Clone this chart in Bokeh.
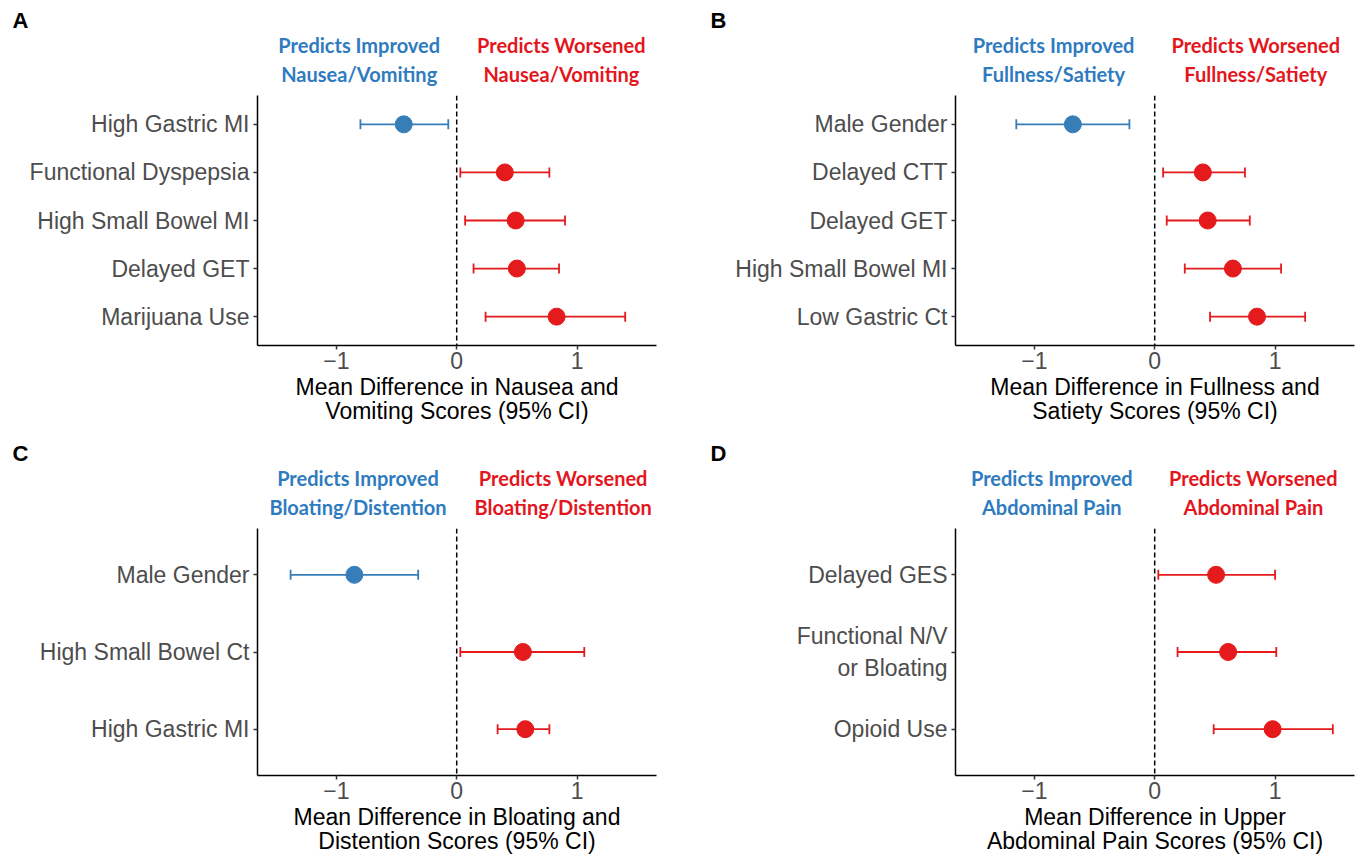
from bokeh.plotting import figure
from bokeh.models import Range1d, FixedTicker, ColumnDataSource, Whisker, TeeHead, Span
from bokeh.layouts import column, row
from bokeh.core.properties import value
from bokeh.embed import file_html
from bokeh.resources import INLINE

# ---------------- data ----------------
A_labels = ["High Gastric MI", "Functional Dyspepsia", "High Small Bowel MI", "Delayed GET", "Marijuana Use"]
A_est = [-0.44, 0.40, 0.49, 0.50, 0.83]
A_lo = [-0.80, 0.03, 0.07, 0.14, 0.24]
A_hi = [-0.07, 0.77, 0.90, 0.85, 1.40]

B_labels = ["Male Gender", "Delayed CTT", "Delayed GET", "High Small Bowel MI", "Low Gastric Ct"]
B_est = [-0.68, 0.40, 0.44, 0.65, 0.85]
B_lo = [-1.15, 0.07, 0.10, 0.25, 0.46]
B_hi = [-0.21, 0.75, 0.79, 1.05, 1.25]

C_labels = ["Male Gender", "High Small Bowel Ct", "High Gastric MI"]
C_est = [-0.85, 0.55, 0.57]
C_lo = [-1.38, 0.03, 0.34]
C_hi = [-0.32, 1.06, 0.77]

D_labels = ["Delayed GES", "Functional N/V\nor Bloating", "Opioid Use"]
D_est = [0.51, 0.61, 0.98]
D_lo = [0.03, 0.19, 0.49]
D_hi = [1.00, 1.01, 1.48]

x_ticks = [-1, 0, 1]
x_tick_labels = ["\u22121", "0", "1"]

topics = ["Nausea/Vomiting", "Fullness/Satiety", "Bloating/Distention", "Abdominal Pain"]
x_titles = [
    "Mean Difference in Nausea and\nVomiting Scores (95% CI)",
    "Mean Difference in Fullness and\nSatiety Scores (95% CI)",
    "Mean Difference in Bloating and\nDistention Scores (95% CI)",
    "Mean Difference in Upper\nAbdominal Pain Scores (95% CI)",
]
letters = ["A", "B", "C", "D"]

# ---------------- style ----------------
BLUE = "#377EB8"
RED = "#E41A1C"
HDR_BLUE = "#2F7BC0"
HDR_RED = "#E3161D"
AX_FONT = "Liberation Sans"
HDR_FONT = "Lato"
X0, X1 = -1.655, 1.66
FRAME_W, FRAME_H = 399, 250


def make_panel(letter, labels, est, lo, hi, topic, xtitle, width, left,
               hdr_h, main_h, hdr_x):
    n = len(labels)
    ys = [n - i for i in range(n)]
    y0, y1 = 0.4, n + 0.6
    top_b = 5
    right_b = width - left - FRAME_W

    # ---- header strip (letter + direction captions); frame aligns with main ----
    h = figure(width=width, height=hdr_h,
               x_range=Range1d(X0, X1), y_range=Range1d(0, hdr_h),
               output_backend="svg", toolbar_location=None,
               x_axis_location=None, y_axis_location="left",
               min_border_left=left, min_border_right=right_b,
               min_border_top=0, min_border_bottom=0,
               outline_line_color=None,
               background_fill_color="white", border_fill_color="white")
    h.xgrid.visible = False
    h.ygrid.visible = False
    frame_top = hdr_h + top_b
    hb, hr = hdr_x
    y_l1 = hdr_h - (frame_top - 51)
    y_l2 = hdr_h - (frame_top - 22)
    h.text(x=[hb, hb], y=[y_l1, y_l2],
           text=["Predicts Improved", topic],
           text_align="center", text_baseline="middle",
           text_font=value(HDR_FONT), text_font_style="bold",
           text_font_size="20px", text_color=HDR_BLUE)
    h.text(x=[hr, hr], y=[y_l1, y_l2],
           text=["Predicts Worsened", topic],
           text_align="center", text_baseline="middle",
           text_font=value(HDR_FONT), text_font_style="bold",
           text_font_size="20px", text_color=HDR_RED)
    # panel letter drawn as the strip's single y tick label, far left
    y_letter = int(round(hdr_h - (frame_top - 75)))
    ya = h.yaxis[0]
    ya.ticker = FixedTicker(ticks=[y_letter])
    ya.major_label_overrides = {y_letter: letter}
    ya.axis_line_color = None
    ya.major_tick_line_color = None
    ya.minor_tick_line_color = None
    ya.major_tick_out = 0
    ya.major_tick_in = 0
    ya.major_label_standoff = 229
    ya.major_label_text_font = AX_FONT
    ya.major_label_text_font_style = "bold"
    ya.major_label_text_font_size = "22px"
    ya.major_label_text_color = "black"

    # ---- main forest plot ----
    p = figure(width=width, height=main_h,
               x_range=Range1d(X0, X1), y_range=Range1d(y0, y1),
               output_backend="svg", toolbar_location=None,
               min_border_left=left, min_border_top=top_b,
               min_border_right=right_b,
               min_border_bottom=main_h - top_b - FRAME_H,
               outline_line_color=None,
               background_fill_color="white", border_fill_color="white")
    p.xgrid.visible = False
    p.ygrid.visible = False

    p.add_layout(Span(location=0, dimension="height", line_color="black",
                      line_dash="5 3", line_width=1.5))

    for col, cond in ((BLUE, lambda v: v < 0), (RED, lambda v: v >= 0)):
        idx = [i for i in range(n) if cond(est[i])]
        if not idx:
            continue
        src = ColumnDataSource(dict(
            y=[ys[i] for i in idx], est=[est[i] for i in idx],
            lo=[lo[i] for i in idx], hi=[hi[i] for i in idx]))
        w = Whisker(source=src, base="y", lower="lo", upper="hi", dimension="width",
                    line_color=col, line_width=1.8, level="underlay",
                    lower_head=TeeHead(size=10, line_color=col, line_width=1.8),
                    upper_head=TeeHead(size=10, line_color=col, line_width=1.8))
        p.add_layout(w)
        p.scatter("est", "y", source=src, size=17, fill_color=col, line_color=col)

    for ax in (p.xaxis[0], p.yaxis[0]):
        ax.axis_line_color = "black"
        ax.axis_line_width = 1.5
        ax.major_tick_out = 4
        ax.major_tick_in = 0
        ax.minor_tick_out = 0
        ax.minor_tick_in = 0
        ax.major_tick_line_color = "#333333"
        ax.major_tick_line_width = 1.5
        ax.major_label_text_font = AX_FONT
        ax.major_label_text_font_size = "23px"
        ax.major_label_text_color = "#4D4D4D"
        ax.major_label_standoff = 4

    p.xaxis.ticker = FixedTicker(ticks=x_ticks)
    p.xaxis.major_label_overrides = {t: s for t, s in zip(x_ticks, x_tick_labels)}
    p.xaxis.major_label_standoff = 2
    p.xaxis.axis_label = xtitle
    p.xaxis.axis_label_text_font = AX_FONT
    p.xaxis.axis_label_text_font_style = "normal"
    p.xaxis.axis_label_text_font_size = "23px"
    p.xaxis.axis_label_text_color = "black"
    p.xaxis.axis_label_standoff = 2
    p.xaxis.axis_label_text_line_height = 0.95

    p.yaxis.ticker = FixedTicker(ticks=ys)
    p.yaxis.major_label_overrides = {y: s for y, s in zip(ys, labels)}

    return column(h, p)


# row 1: frame top at 95; row 2 starts at 438, frame top at 528
pA = make_panel(letters[0], A_labels, A_est, A_lo, A_hi, topics[0], x_titles[0],
                688, 257, 90, 348, (-0.81, 0.87))
pB = make_panel(letters[1], B_labels, B_est, B_lo, B_hi, topics[1], x_titles[1],
                667, 267, 90, 348, (-0.84, 0.84))
pC = make_panel(letters[2], C_labels, C_est, C_lo, C_hi, topics[2], x_titles[2],
                688, 257, 85, 334, (-0.82, 0.885))
pD = make_panel(letters[3], D_labels, D_est, D_lo, D_hi, topics[3], x_titles[3],
                667, 267, 85, 334, (-0.855, 0.82))

layout = column(row(pA, pB), row(pC, pD))
open("out.html", "w").write(file_html(layout, INLINE))
